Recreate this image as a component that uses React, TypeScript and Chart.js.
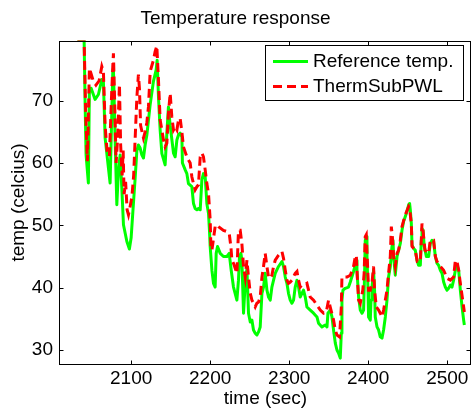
import React, { useEffect, useRef } from 'react';
import { Chart, registerables } from 'chart.js';

Chart.register(...registerables);

const chartTitle = 'Temperature response';
const xAxisLabel = 'time (sec)';
const yAxisLabel = 'temp (celcius)';
const seriesLabels = ['Reference temp.', 'ThermSubPWL'];

const xTicks = [2100, 2200, 2300, 2400, 2500];
const yTicks = [30, 40, 50, 60, 70];
const xRange = [2010, 2530];
const yRange = [27.67, 79.66];

const refTime = [
  2032, 2040.5, 2041.8, 2043.0, 2045.9, 2047.2, 2049.4, 2054.4, 2058.6, 2062.9,
  2064.9, 2067.1, 2073.4, 2076.8, 2077.6, 2079.7, 2081.9, 2083.9, 2086.1, 2088.2,
  2090.3, 2094.6, 2097.8, 2100.0, 2102.2, 2105.1, 2107.2, 2109.2, 2111.4, 2113.5,
  2115.6, 2117.7, 2119.9, 2124.1, 2128.2, 2131.7, 2132.9, 2134.6, 2136.7, 2138.9,
  2143.0, 2145.2, 2147.2, 2149.4, 2153.6, 2155.7, 2157.9, 2159.9, 2162.0, 2164.2,
  2164.9, 2168.4, 2170.5, 2172.5, 2176.8, 2178.9, 2181.0, 2183.2, 2185.2, 2187.4,
  2189.5, 2191.5, 2193.7, 2195.8, 2197.9, 2199.1, 2200.0, 2202.2, 2204.2, 2206.3,
  2207.6, 2209.3, 2212.7, 2216.8, 2221.2, 2224.1, 2226.6, 2229.5, 2233.8, 2235.8,
  2237.1, 2238.9, 2240.1, 2242.2, 2244.3, 2246.5, 2248.5, 2250.7, 2252.8, 2254.8,
  2257.0, 2259.1, 2261.2, 2263.3, 2265.5, 2267.5, 2269.6, 2271.8, 2273.8, 2276.0,
  2278.1, 2280.2, 2282.3, 2286.5, 2290.8, 2292.8, 2295.0, 2297.1, 2299.1, 2301.3,
  2303.4, 2305.5, 2307.6, 2309.8, 2311.8, 2313.9, 2318.1, 2320.3, 2322.4, 2326.6,
  2330.8, 2335.1, 2337.1, 2341.4, 2345.6, 2347.8, 2349.0, 2351.9, 2354.1, 2356.1,
  2358.3, 2360.4, 2362.4, 2364.6, 2365.9, 2366.7, 2368.0, 2370.9, 2375.1, 2377.3,
  2381.4, 2383.6, 2384.9, 2385.7, 2387.8, 2389.9, 2392.1, 2394.1, 2395.4, 2396.2,
  2397.5, 2398.4, 2399.7, 2400.4, 2402.6, 2403.5, 2404.7, 2406.0, 2406.7, 2408.0,
  2408.9, 2411.1, 2413.1, 2415.2, 2417.4, 2419.4, 2421.6, 2423.7, 2425.7, 2427.9,
  2430.0, 2431.3, 2432.1, 2434.2, 2436.4, 2438.4, 2440.6, 2442.7, 2444.7, 2446.9,
  2449.0, 2451.1, 2452.3, 2453.2, 2454.5, 2455.4, 2457.4, 2459.5, 2461.7, 2463.7,
  2465.9, 2467.1, 2468.0, 2469.3, 2470.9, 2473.5, 2476.4, 2478.5, 2480.7, 2482.7,
  2484.9, 2487.0, 2489.0, 2491.2, 2493.3, 2495.4, 2497.5, 2499.7, 2501.7, 2503.9,
  2506.0, 2508.0, 2510.2, 2512.3, 2514.4, 2516.5, 2518.7, 2520.7, 2521.6,
];
const refTemp = [
  79.8, 79.8, 69.4, 61.3, 56.8, 72.0, 72.0, 70.2, 71.0, 73.4,
  73.1, 64.0, 56.8, 74.7, 75.2, 64.0, 53.3, 58.7, 61.3, 56.0,
  50.1, 47.4, 46.2, 48.0, 52.2, 57.6, 61.9, 62.9, 62.4, 61.3,
  60.8, 62.9, 64.5, 69.4, 73.1, 75.0, 76.5, 70.6, 65.3, 61.5,
  59.7, 64.8, 69.0, 66.0, 61.6, 61.0, 63.7, 64.5, 64.8, 64.2,
  60.0, 58.9, 58.3, 56.7, 56.2, 53.5, 52.7, 52.5, 52.7, 52.5,
  57.3, 58.3, 57.8, 53.5, 51.9, 49.2, 46.6, 42.8, 40.7, 40.1,
  45.5, 46.6, 45.5, 45.0, 45.0, 45.5, 42.8, 40.1, 38.0, 41.2,
  45.0, 45.5, 44.4, 35.9, 40.7, 43.0, 35.9, 34.5, 34.8, 33.2,
  32.7, 32.4, 32.9, 33.7, 39.1, 40.1, 42.3, 39.6, 38.5, 38.0,
  40.1, 41.2, 42.3, 43.4, 44.2, 43.4, 41.7, 40.7, 39.1, 38.0,
  37.5, 38.0, 40.1, 41.2, 40.1, 38.5, 39.6, 38.5, 36.9, 36.4,
  35.9, 35.3, 34.3, 33.7, 34.0, 33.7, 35.9, 36.4, 35.3, 33.2,
  31.1, 30.0, 29.5, 28.7, 32.7, 38.0, 39.6, 39.9, 40.1, 40.9,
  42.6, 43.6, 44.4, 42.8, 38.5, 36.4, 35.9, 36.4, 42.3, 47.6,
  48.2, 45.0, 39.6, 35.3, 34.8, 38.0, 40.1, 41.7, 42.8, 39.6,
  35.3, 33.7, 33.2, 32.1, 31.9, 33.2, 35.3, 38.0, 41.7, 43.4,
  46.6, 47.6, 45.0, 42.0, 45.0, 46.0, 47.1, 49.2, 50.6, 51.4,
  52.2, 53.3, 53.5, 52.5, 50.3, 46.8, 46.3, 46.0, 44.4, 43.6,
  43.6, 47.6, 49.5, 49.2, 46.6, 45.0, 45.0, 47.1, 47.6, 47.4,
  45.0, 43.9, 43.6, 42.8, 42.3, 40.9, 40.1, 39.6, 39.9, 40.4,
  40.1, 41.2, 42.8, 43.6, 42.8, 39.6, 36.9, 34.8, 34.0,
];

const pwlTime = [
  2032, 2040.5, 2042.5, 2044.7, 2047.2, 2052.3, 2055.5, 2059.5, 2062.9, 2064.9,
  2067.1, 2069.5, 2072.5, 2075.0, 2076.8, 2077.6, 2079.1, 2081.0, 2082.9, 2085.2,
  2086.7, 2088.6, 2089.9, 2091.1, 2093.0, 2094.9, 2096.6, 2098.7, 2100.9, 2103.2,
  2105.1, 2107.2, 2109.2, 2110.5, 2112.0, 2115.6, 2117.7, 2119.9, 2121.9, 2124.1,
  2128.2, 2130.4, 2132.5, 2134.6, 2136.7, 2138.9, 2140.9, 2143.0, 2145.2, 2147.2,
  2149.4, 2151.5, 2153.6, 2155.7, 2157.9, 2159.9, 2162.0, 2164.2, 2166.2, 2170.5,
  2172.5, 2174.7, 2176.8, 2178.9, 2181.0, 2183.2, 2185.2, 2187.4, 2189.5, 2191.5,
  2193.7, 2195.8, 2197.9, 2200.0, 2200.9, 2202.2, 2206.3, 2208.5, 2210.5, 2216.8,
  2221.2, 2224.1, 2226.2, 2227.5, 2229.5, 2233.8, 2235.8, 2238.0, 2240.1, 2242.2,
  2244.3, 2246.5, 2248.5, 2250.7, 2252.8, 2254.8, 2257.0, 2259.1, 2261.2, 2263.3,
  2265.5, 2267.5, 2269.6, 2271.8, 2273.8, 2276.0, 2278.1, 2280.2, 2282.3, 2286.5,
  2290.8, 2292.8, 2295.0, 2297.1, 2299.1, 2301.3, 2303.4, 2307.6, 2309.8, 2311.8,
  2313.9, 2316.0, 2318.1, 2322.4, 2326.6, 2330.8, 2335.1, 2339.3, 2343.5, 2346.9,
  2349.8, 2351.9, 2356.1, 2358.3, 2360.4, 2363.7, 2365.9, 2366.7, 2370.9, 2373.1,
  2377.3, 2381.4, 2383.6, 2384.9, 2385.7, 2387.8, 2389.9, 2393.1, 2394.8, 2396.2,
  2397.5, 2399.0, 2400.4, 2402.6, 2404.7, 2406.7, 2408.0, 2410.2, 2413.1, 2415.2,
  2417.4, 2419.4, 2421.6, 2423.7, 2425.7, 2427.9, 2429.2, 2430.5, 2432.1, 2434.2,
  2436.4, 2438.4, 2440.6, 2442.7, 2446.9, 2451.1, 2452.3, 2454.5, 2455.4, 2459.5,
  2462.0, 2465.9, 2468.0, 2469.3, 2471.8, 2476.4, 2478.5, 2482.7, 2484.9, 2487.0,
  2491.2, 2495.4, 2499.7, 2503.9, 2508.0, 2510.2, 2512.3, 2514.4, 2516.5, 2519.5,
  2521.6,
];
const pwlTemp = [
  79.8, 79.8, 68.0, 60.3, 75.2, 73.1, 72.5, 73.2, 75.5, 74.7,
  66.0, 62.0, 61.1, 70.0, 75.5, 77.6, 70.0, 60.0, 64.0, 72.6,
  63.0, 58.0, 62.0, 55.0, 57.0, 52.5, 51.7, 53.0, 54.5, 58.0,
  64.0, 70.4, 74.2, 72.0, 66.0, 64.0, 65.0, 66.5, 69.0, 74.7,
  76.5, 77.9, 78.8, 73.3, 66.9, 65.3, 63.7, 62.6, 63.2, 68.0,
  71.2, 67.4, 65.3, 65.8, 65.3, 66.9, 67.2, 65.0, 62.6, 61.0,
  60.5, 60.0, 57.8, 56.7, 55.7, 56.2, 56.5, 61.0, 61.6, 61.0,
  58.9, 56.7, 55.1, 50.9, 46.6, 46.0, 49.8, 50.1, 49.8, 49.2,
  49.0, 48.7, 46.6, 44.4, 43.9, 42.3, 49.2, 49.2, 47.1, 43.4,
  41.7, 44.4, 41.7, 39.1, 38.0, 37.5, 36.9, 37.5, 37.7, 38.5,
  41.7, 43.4, 45.5, 43.4, 41.7, 41.5, 42.0, 43.4, 44.4, 45.2,
  45.8, 44.7, 42.8, 41.2, 40.7, 40.9, 41.2, 42.3, 42.6, 41.2,
  40.1, 40.4, 40.4, 40.7, 38.5, 38.0, 37.2, 36.4, 35.9, 36.1,
  38.0, 36.9, 34.8, 33.2, 32.4, 32.1, 36.9, 41.7, 41.7, 41.7,
  42.0, 43.4, 45.0, 45.2, 42.8, 38.0, 37.5, 39.6, 42.3, 48.2,
  48.5, 43.9, 39.6, 39.6, 40.7, 43.4, 39.6, 36.9, 36.4, 35.9,
  35.3, 36.4, 38.0, 39.6, 42.3, 45.0, 49.8, 48.2, 45.0, 43.4,
  45.5, 46.0, 47.6, 49.8, 51.7, 53.0, 52.7, 50.3, 46.6, 46.0,
  44.2, 44.2, 50.3, 49.2, 46.0, 45.5, 47.6, 47.6, 45.0, 44.2,
  43.4, 42.8, 41.5, 41.2, 41.7, 44.4, 44.2, 42.8, 40.7, 38.0,
  36.1,
];

const FONT = '"Liberation Sans", Arial, Helvetica, sans-serif';
const GREEN = '#00ff00';
const RED = '#ff0000';

const framePlugin = {
  id: 'matlabFrame',
  afterDatasetsDraw(chart: any) {
    const { ctx, chartArea: a, scales } = chart;
    ctx.save();
    ctx.strokeStyle = '#000';
    ctx.lineWidth = 1;
    const L = Math.round(a.left) - 0.5;
    const R = Math.round(a.right) - 0.5;
    const T = Math.round(a.top) + 0.5;
    const B = Math.round(a.bottom) - 0.5;
    ctx.strokeRect(L, T, R - L, B - T);
    const tl = 4;
    ctx.beginPath();
    xTicks.forEach((v) => {
      const px = Math.round(scales.x.getPixelForValue(v)) + 0.5;
      ctx.moveTo(px, B);
      ctx.lineTo(px, B - tl);
      ctx.moveTo(px, T);
      ctx.lineTo(px, T + tl);
    });
    yTicks.forEach((v) => {
      const py = Math.round(scales.y.getPixelForValue(v)) + 0.5;
      ctx.moveTo(L, py);
      ctx.lineTo(L + tl, py);
      ctx.moveTo(R, py);
      ctx.lineTo(R - tl, py);
    });
    ctx.stroke();

    // legend box inside the axes
    const bx = 265.5, by = 45.5, bw = 198, bh = 55;
    ctx.fillStyle = '#fff';
    ctx.fillRect(bx, by, bw, bh);
    ctx.strokeRect(bx, by, bw, bh);
    const rows = [61.5, 86.5];
    chart.data.datasets.forEach((ds: any, i: number) => {
      const y = rows[i];
      ctx.beginPath();
      ctx.strokeStyle = ds.borderColor;
      ctx.lineWidth = ds.borderWidth;
      ctx.setLineDash(ds.borderDash || []);
      ctx.moveTo(273, y);
      ctx.lineTo(308, y);
      ctx.stroke();
      ctx.setLineDash([]);
      ctx.fillStyle = '#000';
      ctx.font = `19px ${FONT}`;
      ctx.textBaseline = 'middle';
      ctx.textAlign = 'left';
      ctx.fillText(ds.label, 313, y + 0.5);
    });
    ctx.restore();
  },
};

export default function App() {
  const canvasRef = useRef<HTMLCanvasElement | null>(null);

  useEffect(() => {
    if (!canvasRef.current) return;
    const refData = refTime.map((t, i) => ({ x: t, y: refTemp[i] }));
    const pwlData = pwlTime.map((t, i) => ({ x: t, y: pwlTemp[i] }));
    const tickFont = { family: FONT, size: 19, lineHeight: 1.2 };
    const chart = new Chart(canvasRef.current, {
      type: 'line',
      data: {
        datasets: [
          {
            label: seriesLabels[0],
            data: refData,
            borderColor: GREEN,
            backgroundColor: GREEN,
            borderWidth: 3,
            pointRadius: 0,
            tension: 0,
            borderJoinStyle: 'round',
            order: 1,
          },
          {
            label: seriesLabels[1],
            data: pwlData,
            borderColor: RED,
            backgroundColor: RED,
            borderWidth: 3,
            borderDash: [9, 5],
            pointRadius: 0,
            tension: 0,
            order: 0,
          },
        ],
      },
      options: {
        animation: false,
        responsive: false,
        devicePixelRatio: 1,
        layout: { padding: { left: 0, right: 2, top: 0, bottom: 0 } },
        plugins: {
          legend: { display: false },
          tooltip: { enabled: false },
          title: {
            display: true,
            text: chartTitle,
            color: '#000',
            font: { family: FONT, size: 19, weight: 'normal', lineHeight: 1.2 },
            padding: { top: 7, bottom: 10.7 },
          },
        },
        scales: {
          x: {
            type: 'linear',
            min: xRange[0],
            max: xRange[1],
            afterBuildTicks: (s: any) => {
              s.ticks = xTicks.map((v) => ({ value: v }));
            },
            afterFit: (s: any) => {
              s.height = 43.5;
            },
            grid: { display: false, drawTicks: false },
            border: { display: false },
            ticks: {
              color: '#000',
              font: tickFont,
              padding: 3,
              maxRotation: 0,
              autoSkip: false,
              callback: (v: any) => String(v),
            },
            title: {
              display: true,
              text: xAxisLabel,
              color: '#000',
              font: { family: FONT, size: 19, lineHeight: 1 },
              padding: { top: 0, bottom: 0 },
            },
          },
          y: {
            type: 'linear',
            min: yRange[0],
            max: yRange[1],
            afterBuildTicks: (s: any) => {
              s.ticks = yTicks.map((v) => ({ value: v }));
            },
            afterFit: (s: any) => {
              s.width = 60;
            },
            grid: { display: false, drawTicks: false },
            border: { display: false },
            ticks: {
              color: '#000',
              font: tickFont,
              padding: 7,
              autoSkip: false,
              callback: (v: any) => String(v),
            },
            title: {
              display: true,
              text: yAxisLabel,
              color: '#000',
              font: { family: FONT, size: 19, lineHeight: 1.2 },
              padding: { top: 7, bottom: 0 },
            },
          },
        },
      },
      plugins: [framePlugin],
    });
    return () => chart.destroy();
  }, []);

  return (
    <div style={{ position: 'fixed', left: 0, top: 0, width: 473, height: 408, background: '#fff' }}>
      <canvas ref={canvasRef} width={473} height={408} style={{ display: 'block' }} />
    </div>
  );
}
